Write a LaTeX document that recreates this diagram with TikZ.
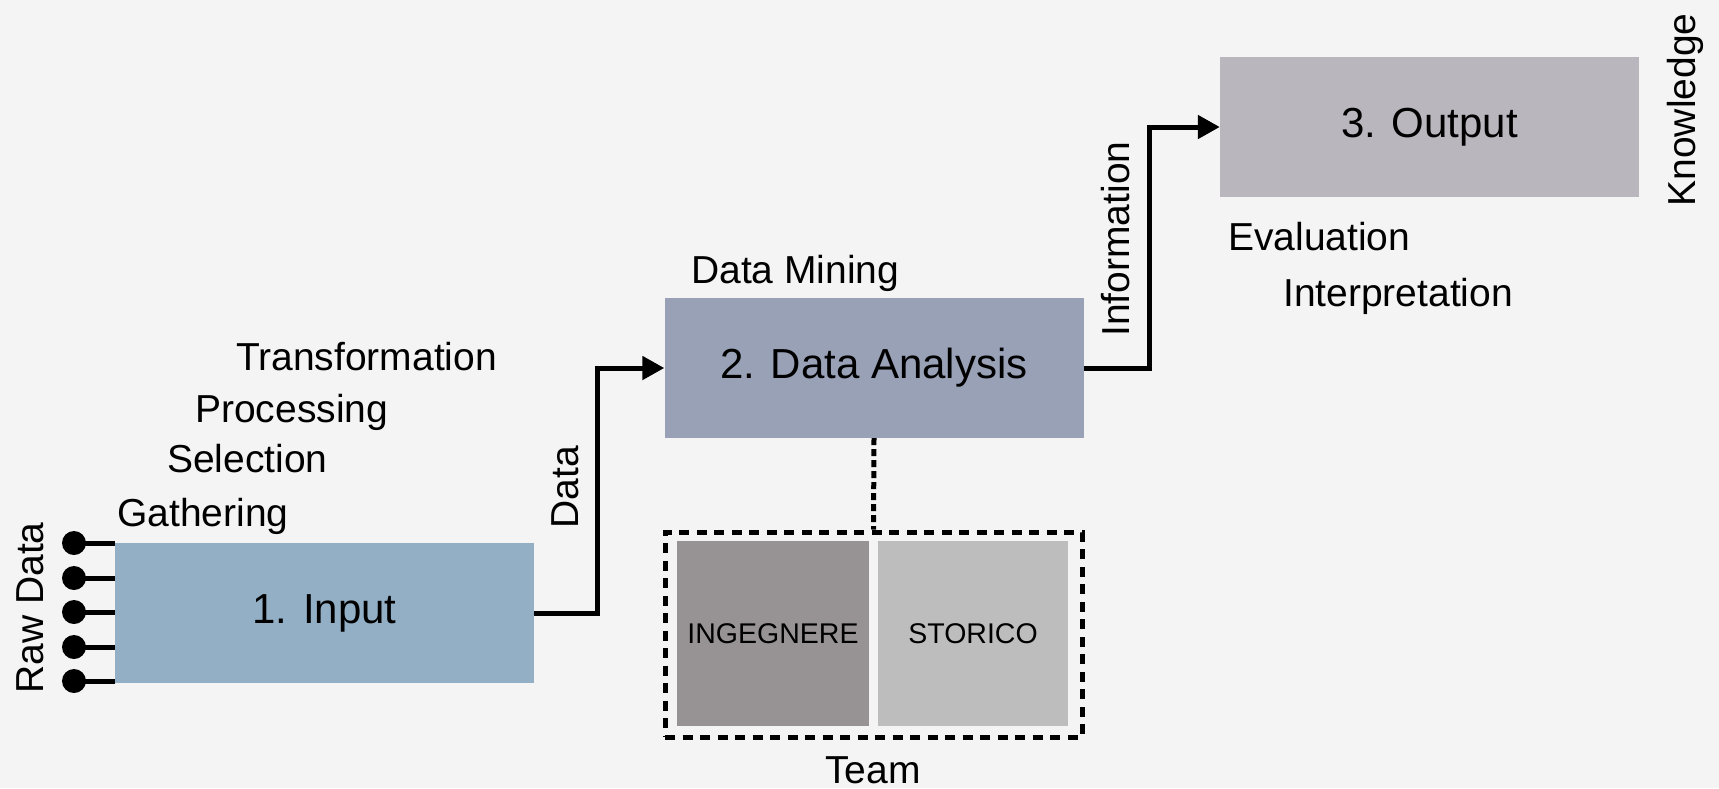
\documentclass[tikz,border=0pt]{standalone}
\usepackage{fontspec}
\setmainfont{Liberation Sans}
\usetikzlibrary{arrows.meta}
\definecolor{bgc}{HTML}{F4F4F5}
\definecolor{inc}{HTML}{93AFC6}
\definecolor{anc}{HTML}{98A1B6}
\definecolor{outc}{HTML}{BAB6BD}
\definecolor{ingc}{HTML}{979394}
\definecolor{stoc}{HTML}{BDBDBD}
\begin{document}
\begin{tikzpicture}[x=1pt,y=-1pt,
  box/.style={inner sep=0pt, minimum width=419pt, minimum height=140pt, font=\fontsize{42}{48}\selectfont},
  lbl/.style={font=\fontsize{39}{45}\selectfont, inner sep=0pt},
  member/.style={inner sep=0pt, minimum height=185pt, font=\fontsize{28.5}{32}\selectfont},
  conn/.style={line width=5pt, -{Triangle[length=22pt,width=23pt]}},
  dotnode/.style={circle, fill=black, inner sep=0pt, minimum size=24pt},
  stub/.style={line width=5pt},
]
\useasboundingbox (0,0) rectangle (1719,788);
\fill[bgc] (0,0) rectangle (1719,788);

% boxes
\node[box, fill=inc] (in) at (324.5,613) {1. Input};
\node[box, fill=anc] (an) at (874,368) {2. Data Analysis};
\node[box, fill=outc] (out) at (1429.5,127) {3. Output};

% raw data dots
\foreach \i/\yy in {1/543,2/578,3/612,4/647,5/681}{
  \node[dotnode] (d\i) at (74,\yy) {};
  \draw[stub] (d\i.center) -- (in.west |- d\i);
}
\node[lbl, rotate=90] (raw) at (30,608) {Raw Data};

% step labels
\node[lbl, anchor=base west] (gath) at (117,526) {Gathering};
\node[lbl, anchor=base west] (sel) at (167,472) {Selection};
\node[lbl, anchor=base west] (proc) at (195,422) {Processing};
\node[lbl, anchor=base west] (trans) at (236,370) {Transformation};
\node[lbl, anchor=base west] (mining) at (691,283) {Data Mining};
\node[lbl, anchor=base west] (eval) at (1228,250) {Evaluation};
\node[lbl, anchor=base west] (interp) at (1283,306) {Interpretation};

% connectors
\draw[conn] (in.east) -- ++(63,0) |- (an.west);
\draw[conn] (an.east) -- ++(66,0) |- (out.west);
\node[lbl, rotate=90] (datalbl) at (565,487) {Data};
\node[lbl, rotate=90] (infolbl) at (1116,239) {Information};
\node[lbl, rotate=90] (know) at (1685,110) {Knowledge};

% team
\node[draw, line width=5pt, dash pattern=on 10pt off 7.5pt, inner sep=0pt,
      minimum width=417pt, minimum height=205pt] (team) at (873.5,634.5) {};
\node[member, fill=ingc, minimum width=192pt] (ing) at (773,633.5) {INGEGNERE};
\node[member, fill=stoc, minimum width=190pt] (sto) at (973,633.5) {STORICO};
\draw[line width=5pt, dash pattern=on 7pt off 4pt] (an.south) -- (team.north);
\node[lbl, anchor=base] (teamlbl) at (873,783) {Team};
\end{tikzpicture}
\end{document}
